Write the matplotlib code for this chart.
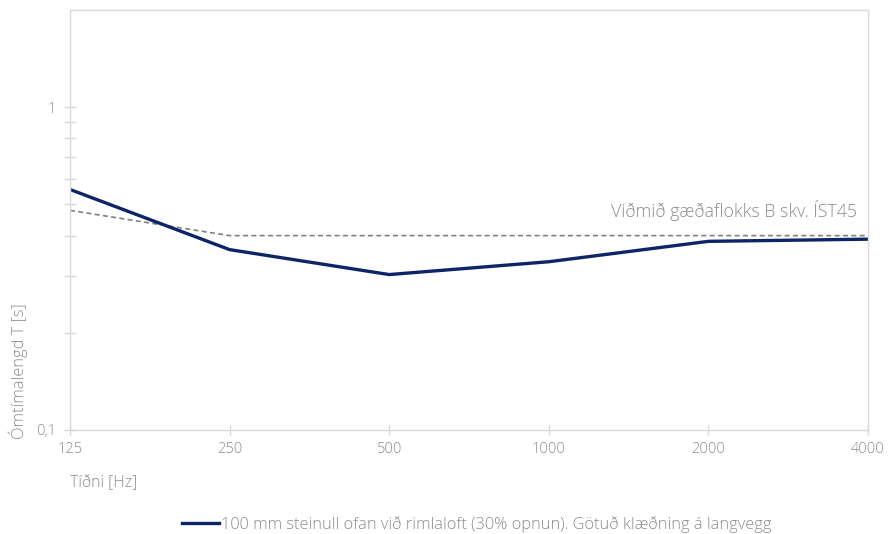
"""Reverberation time chart, measured vs. quality class B reference"""

import numpy as np
import matplotlib.pyplot as plt
from matplotlib.ticker import FixedLocator, NullFormatter

plt.rcParams["font.family"] = ["Open Sans", "DejaVu Sans"]
plt.rcParams["font.weight"] = "light"

freq_labels = ["125", "250", "500", "1000", "2000", "4000"]
measured = [0.556, 0.362, 0.303, 0.332, 0.384, 0.390]
reference = [0.479, 0.400, 0.400, 0.400, 0.400, 0.400]

series_label = "100 mm steinull ofan við rimlaloft (30% opnun). Götuð klæðning á langvegg"
ref_label = "Viðmið gæðaflokks B skv. ÍST45"

grey = "#d9d9d9"
text_grey = "#8c8c8c"
navy = "#0d2466"

fig = plt.figure(figsize=(8.89, 5.34), dpi=100)
ax = fig.add_axes([0.0787, 0.1948, 0.8977, 0.7865])

x = np.arange(len(freq_labels))
ax.plot(x, reference, color="#808080", lw=1.2, ls=(0, (3, 2)))
ax.plot(x, measured, color=navy, lw=2.4, label=series_label, solid_joinstyle="round")

ax.set_yscale("log")
ax.set_ylim(0.1, 2)
ax.set_xlim(0, len(freq_labels) - 1)

ax.set_xticks(x)
ax.set_xticklabels(freq_labels)
ax.yaxis.set_major_locator(FixedLocator([0.1, 1]))
ax.set_yticklabels(["0,1", "1"])
ax.yaxis.set_minor_locator(FixedLocator([0.2, 0.3, 0.4, 0.5, 0.6, 0.7, 0.8, 0.9]))
ax.yaxis.set_minor_formatter(NullFormatter())

for side in ["top", "right", "left", "bottom"]:
    ax.spines[side].set_color(grey)
    ax.spines[side].set_linewidth(1)

ax.tick_params(axis="both", which="both", direction="inout", color=grey,
               labelcolor=text_grey, labelsize=10.5, width=1)
ax.tick_params(axis="x", which="major", length=7, pad=5)
ax.tick_params(axis="y", which="major", length=8, pad=6)
ax.tick_params(axis="y", which="minor", length=8)

ax.text(4.93, 0.445, ref_label, color=text_grey, fontsize=12.8, ha="right", va="bottom")

fig.text(0.079, 0.096, "Tíðni [Hz]", color=text_grey, fontsize=11.5, ha="left", va="center")
fig.text(0.020, 0.305, "Ómtímalengd T [s]", color=text_grey, fontsize=11.8,
         rotation=90, ha="center", va="center")

fig.legend(loc="center", bbox_to_anchor=(0.536, 0.018), frameon=False, fontsize=11.8,
           labelcolor=text_grey, handlelength=2.3, handletextpad=0.1)

plt.savefig("out.png", dpi=100)
